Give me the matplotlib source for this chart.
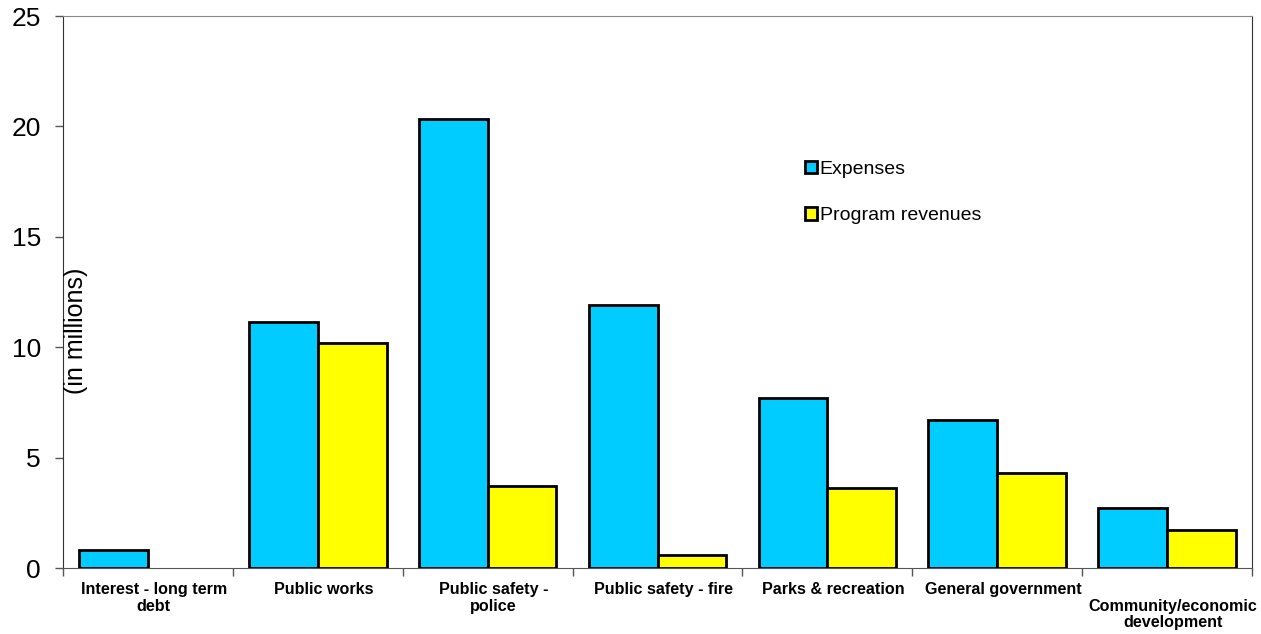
import numpy as np
import matplotlib
matplotlib.use("Agg")
import matplotlib.pyplot as plt
import matplotlib.transforms as mtransforms

plt.rcParams["font.family"] = ["Liberation Sans", "DejaVu Sans"]

categories = ["Interest - long term\ndebt", "Public works", "Public safety -\npolice",
              "Public safety - fire", "Parks & recreation", "General government",
              "\nCommunity/economic\ndevelopment"]
expenses = [0.82, 11.14, 20.33, 11.91, 7.70, 6.70, 2.72]
revenues = [np.nan, 10.19, 3.71, 0.59, 3.62, 4.30, 1.72]

fig = plt.figure(figsize=(12.61, 6.34), dpi=100)
ax = fig.add_axes([63 / 1261, 1 - 568 / 634, (1252 - 63) / 1261, (568 - 16) / 634])

x = np.arange(len(categories))
w = 0.405
ax.bar(x - w / 2, expenses, w, color="#00ccff", edgecolor="black", linewidth=2,
       label="Expenses", zorder=3)
ax.bar(x + w / 2, revenues, w, color="#ffff00", edgecolor="black", linewidth=2,
       label="Program revenues", zorder=3)

ax.set_xlim(-0.5, len(categories) - 0.5)
ax.set_ylim(0, 25)
ax.set_yticks([0, 5, 10, 15, 20, 25])
ax.tick_params(axis="y", labelsize=19, length=6, width=1, color="#555555", pad=10)

# category labels centred, tick marks on the group boundaries
ax.set_xticks(x)
ax.set_xticklabels(categories, fontsize=11.6, fontweight="bold", linespacing=1.15)
ax.tick_params(axis="x", length=0, pad=10)
nudge = mtransforms.ScaledTranslation(6 / 100, 0, fig.dpi_scale_trans)
for lbl in ax.get_xticklabels():
    lbl.set_transform(lbl.get_transform() + nudge)
ax.set_xticks(np.arange(len(categories) + 1) - 0.5, minor=True)
ax.tick_params(axis="x", which="minor", length=6, width=1, color="#555555")

ax.spines["left"].set_color("#333333")
ax.spines["bottom"].set_color("#555555")
ax.spines["top"].set_color("#888888")
ax.spines["right"].set_color("#333333")

ax.text(0.011, 0.43, "(in millions)", transform=ax.transAxes, rotation=90,
        fontsize=18, ha="center", va="center")

ax.legend(loc="upper left", bbox_to_anchor=(0.616, 0.755), frameon=False,
          fontsize=14, handlelength=0.6, handleheight=0.6, handletextpad=0.15,
          labelspacing=1.5, borderpad=0)

fig.savefig("out.png", dpi=100)
